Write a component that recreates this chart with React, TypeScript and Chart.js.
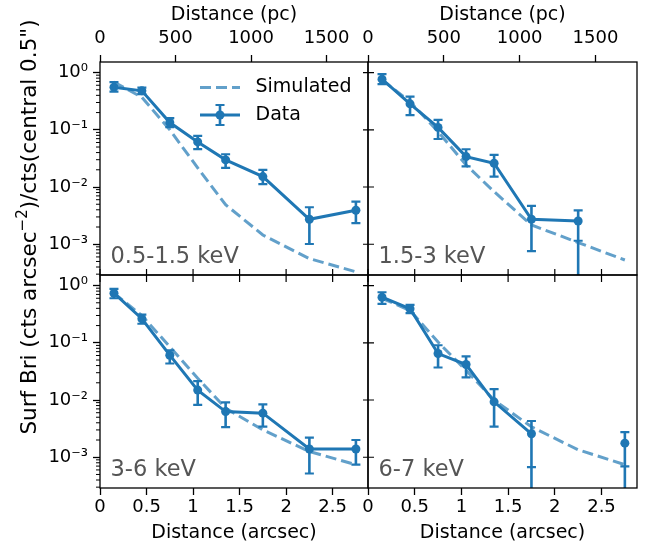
import React, { useEffect, useRef } from 'react';
import { Chart, registerables } from 'chart.js';
Chart.register(...registerables);

const FONT = 'DejaVu Sans';
Chart.defaults.font.family = FONT;

// ---------------- data ----------------
const xArcsec = [0.15, 0.45, 0.75, 1.05, 1.35, 1.75, 2.25, 2.75];
const xTicks = [0, 0.5, 1, 1.5, 2, 2.5];
const xTickLabels = ['0', '0.5', '1', '1.5', '2', '2.5'];
const pcTicks = [0, 500, 1000, 1500];
const pcTickLabels = ['0', '500', '1000', '1500'];
const yTicks = [1e-3, 1e-2, 1e-1, 1];
const yTickLabels = ['10⁻³', '10⁻²', '10⁻¹', '10⁰'];
const xMax = 2.88;
const pcPerArcsec = 616;
const yMin = 2.9e-4;
const yMax = 1.53;

const bandLabels = ['0.5-1.5 keV', '1.5-3 keV', '3-6 keV', '6-7 keV'];

// 0.5-1.5 keV
const softData = [0.556, 0.479, 0.134, 0.0614, 0.0298, 0.0152, 0.00273, 0.00393];
const softHi = [0.68, 0.547, 0.16, 0.078, 0.0374, 0.02, 0.00443, 0.00556];
const softLo = [0.466, 0.419, 0.111, 0.046, 0.0216, 0.0112, 0.00101, 0.00233];
const softClip = [false, false, false, false, false, false, false, false];
const softSim = [0.68, 0.37, 0.1, 0.0216, 0.0049, 0.00145, 5.6e-4, 3.3e-4];

// 1.5-3 keV
const medData = [0.767, 0.284, 0.11, 0.034, 0.026, 0.00273, 0.00255, null];
const medHi = [0.94, 0.38, 0.149, 0.0457, 0.0363, 0.00468, 0.0039, null];
const medLo = [0.627, 0.18, 0.069, 0.0229, 0.0152, 0.00076, 0.00115, null];
const medClip = [false, false, false, false, false, false, true, false];
const medSim = [0.745, 0.31, 0.093, 0.0243, 0.0083, 0.00217, 0.00107, 5.3e-4];

// 3-6 keV
const hardData = [0.735, 0.263, 0.0607, 0.0149, 0.00627, 0.0059, 0.00139, 0.00139];
const hardHi = [0.875, 0.31, 0.074, 0.0214, 0.0091, 0.0084, 0.0022, 0.002];
const hardLo = [0.6, 0.215, 0.0435, 0.0082, 0.00335, 0.00343, 5.2e-4, 7.4e-4];
const hardClip = [false, false, false, false, false, false, false, false];
const hardSim = [0.735, 0.3, 0.085, 0.024, 0.0072, 0.003, 0.00126, 7.4e-4];

// 6-7 keV
const feData = [0.626, 0.393, 0.0649, 0.0417, 0.0093, 0.00257, null, 0.00176];
const feHi = [0.765, 0.46, 0.0906, 0.058, 0.0155, 0.0043, null, 0.00274];
const feLo = [0.48, 0.33, 0.037, 0.0248, 0.00343, 6.7e-4, null, 6.9e-4];
const feClip = [false, false, false, false, false, true, false, true];
const feSim = [0.6, 0.367, 0.103, 0.033, 0.01, 0.0034, 0.00135, 7.4e-4];

// ---------------- styling / layout ----------------
const W = 649;
const H = 549;
const AX = 60;
const BLUE = '#1f77b4';
const SIMC = 'rgba(31,119,180,0.7)';

const panels = [
  { label: bandLabels[0], data: softData, hi: softHi, lo: softLo, clip: softClip, sim: softSim,
    rect: { L: 100, R: 368, T: 62, B: 275 }, top: true, bottom: false, left: true, legend: true, ylabel: false },
  { label: bandLabels[1], data: medData, hi: medHi, lo: medLo, clip: medClip, sim: medSim,
    rect: { L: 368, R: 637, T: 62, B: 275 }, top: true, bottom: false, left: false, legend: false, ylabel: false },
  { label: bandLabels[2], data: hardData, hi: hardHi, lo: hardLo, clip: hardClip, sim: hardSim,
    rect: { L: 100, R: 368, T: 275, B: 488 }, top: false, bottom: true, left: true, legend: false, ylabel: true },
  { label: bandLabels[3], data: feData, hi: feHi, lo: feLo, clip: feClip, sim: feSim,
    rect: { L: 368, R: 637, T: 275, B: 488 }, top: false, bottom: true, left: false, legend: false, ylabel: false },
];

const EB_W = 2.6;
const CAP_W = 2.2;
const CAP = 4.5;

const decorPlugin = {
  id: 'decor',
  afterDatasetsDraw(chart: any, _args: any, opts: any) {
    const p = opts.panel;
    if (!p) return;
    const ctx = chart.ctx;
    const ca = chart.chartArea;
    const xs = chart.scales.x;
    const ys = chart.scales.y;
    ctx.save();
    ctx.beginPath();
    ctx.rect(ca.left, ca.top, ca.right - ca.left, ca.bottom - ca.top);
    ctx.clip();
    ctx.strokeStyle = BLUE;
    for (let i = 0; i < xArcsec.length; i++) {
      if (p.data[i] == null) continue;
      const x = xs.getPixelForValue(xArcsec[i]);
      const yh = ys.getPixelForValue(p.hi[i]);
      const yl = ys.getPixelForValue(p.lo[i]);
      const yEnd = p.clip[i] ? ca.bottom + 2 : yl;
      ctx.lineWidth = EB_W;
      ctx.beginPath();
      ctx.moveTo(x, yh);
      ctx.lineTo(x, yEnd);
      ctx.stroke();
      ctx.lineWidth = CAP_W;
      ctx.beginPath();
      ctx.moveTo(x - CAP, yh);
      ctx.lineTo(x + CAP, yh);
      ctx.moveTo(x - CAP, yl);
      ctx.lineTo(x + CAP, yl);
      ctx.stroke();
    }
    ctx.restore();
  },
  afterDraw(chart: any, _args: any, opts: any) {
    const p = opts.panel;
    if (!p) return;
    const ctx = chart.ctx;
    const ca = chart.chartArea;
    const xs = chart.scales.x;
    const ys = chart.scales.y;
    ctx.save();
    // frame
    ctx.strokeStyle = '#000';
    ctx.lineWidth = 1.3;
    ctx.strokeRect(ca.left, ca.top, ca.right - ca.left, ca.bottom - ca.top);
    // minor y ticks for left panels
    ctx.lineWidth = 1;
    if (p.left) {
      ctx.beginPath();
      for (let d = -4; d <= 0; d++) {
        for (let k = 2; k <= 9; k++) {
          const v = k * Math.pow(10, d);
          if (v < yMin || v > yMax) continue;
          const y = ys.getPixelForValue(v);
          ctx.moveTo(ca.left - 4, y);
          ctx.lineTo(ca.left, y);
        }
      }
      ctx.stroke();
    } else {
      ctx.lineWidth = 1.2;
      ctx.beginPath();
      for (const v of yTicks) {
        const y = ys.getPixelForValue(v);
        ctx.moveTo(ca.left - 5, y);
        ctx.lineTo(ca.left + 6, y);
      }
      ctx.stroke();
    }
    if (!p.bottom) {
      ctx.lineWidth = 1.2;
      ctx.beginPath();
      for (const v of xTicks) {
        const x = xs.getPixelForValue(v);
        ctx.moveTo(x, ca.bottom - 6);
        ctx.lineTo(x, ca.bottom + 7);
      }
      ctx.stroke();
    }
    // panel label
    ctx.fillStyle = '#555555';
    ctx.font = `22.5px "${FONT}"`;
    ctx.textAlign = 'left';
    ctx.textBaseline = 'alphabetic';
    ctx.fillText(p.label, ca.left + 10.5, ca.bottom - 12);

    // legend
    if (p.legend) {
      const hx0 = ca.right - 168;
      const hx1 = ca.right - 128;
      const hxm = (hx0 + hx1) / 2;
      const y1 = ca.top + 25.5;
      const y2 = ca.top + 53;
      ctx.strokeStyle = SIMC;
      ctx.lineWidth = 3;
      ctx.setLineDash([11, 5]);
      ctx.beginPath();
      ctx.moveTo(hx0, y1);
      ctx.lineTo(hx1, y1);
      ctx.stroke();
      ctx.setLineDash([]);
      ctx.strokeStyle = BLUE;
      ctx.lineWidth = 3;
      ctx.beginPath();
      ctx.moveTo(hx0, y2);
      ctx.lineTo(hx1, y2);
      ctx.stroke();
      ctx.lineWidth = EB_W;
      ctx.beginPath();
      ctx.moveTo(hxm, y2 - 10);
      ctx.lineTo(hxm, y2 + 10);
      ctx.stroke();
      ctx.lineWidth = CAP_W;
      ctx.beginPath();
      ctx.moveTo(hxm - CAP, y2 - 10);
      ctx.lineTo(hxm + CAP, y2 - 10);
      ctx.moveTo(hxm - CAP, y2 + 10);
      ctx.lineTo(hxm + CAP, y2 + 10);
      ctx.stroke();
      ctx.fillStyle = BLUE;
      ctx.beginPath();
      ctx.arc(hxm, y2, 4.5, 0, Math.PI * 2);
      ctx.fill();
      ctx.fillStyle = '#000';
      ctx.font = `19px "${FONT}"`;
      ctx.textBaseline = 'middle';
      ctx.fillText('Simulated', ca.right - 112.5, y1);
      ctx.fillText('Data', ca.right - 112.5, y2);
    }

    // y label (figure-level)
    if (p.ylabel) {
      const main = `21.5px "${FONT}"`;
      const sup = `15px "${FONT}"`;
      const parts = [
        { t: 'Surf Bri (cts arcsec', f: main, dy: 0 },
        { t: '−2', f: sup, dy: -9 },
        { t: ')/cts(central 0.5")', f: main, dy: 0 },
      ];
      ctx.fillStyle = '#000';
      ctx.textBaseline = 'alphabetic';
      ctx.textAlign = 'left';
      let total = 0;
      for (const part of parts) {
        ctx.font = part.f;
        total += ctx.measureText(part.t).width;
      }
      ctx.translate(28, 227);
      ctx.rotate(-Math.PI / 2);
      let x = -total / 2;
      for (const part of parts) {
        ctx.font = part.f;
        ctx.fillText(part.t, x, 8 + part.dy);
        x += ctx.measureText(part.t).width;
      }
    }
    ctx.restore();
  },
};

function makeConfig(p: any) {
  const { L, R, T, B } = p.rect;
  const fixH = (s: any) => { s.height = AX; };
  const fixW = (s: any) => { s.width = AX; };
  const tickGrid = { drawOnChartArea: false, drawTicks: true, tickLength: 7, tickWidth: 1.3, tickColor: '#000' };
  const scales: any = {
    x: {
      type: 'linear', position: 'bottom', min: 0, max: xMax, display: p.bottom,
      afterBuildTicks: (s: any) => { s.ticks = xTicks.map((v) => ({ value: v })); },
      ticks: { callback: (_v: any, i: number) => xTickLabels[i], font: { size: 18 }, color: '#000', padding: 2, maxRotation: 0, autoSkip: false },
      grid: tickGrid,
      border: { display: false },
      title: { display: true, text: 'Distance (arcsec)', font: { size: 19 }, color: '#000', padding: { top: 0, bottom: 3.6 } },
    },
    y: {
      type: 'logarithmic', position: 'left', min: yMin, max: yMax, display: p.left,
      afterBuildTicks: (s: any) => { s.ticks = yTicks.map((v) => ({ value: v, major: true })); },
      ticks: { callback: (_v: any, i: number) => yTickLabels[i], font: { size: 18 }, color: '#000', padding: 5, autoSkip: false },
      grid: tickGrid,
      border: { display: false },
    },
  };
  if (p.bottom) scales.x.afterFit = fixH;
  if (p.left) scales.y.afterFit = fixW;
  if (p.top) {
    scales.x2 = {
      type: 'linear', position: 'top', min: 0, max: xMax * pcPerArcsec, display: true,
      afterBuildTicks: (s: any) => { s.ticks = pcTicks.map((v) => ({ value: v })); },
      afterFit: fixH,
      ticks: { callback: (_v: any, i: number) => pcTickLabels[i], font: { size: 18 }, color: '#000', padding: 6, maxRotation: 0, autoSkip: false },
      grid: tickGrid,
      border: { display: false },
      title: { display: true, text: 'Distance (pc)', font: { size: 19 }, color: '#000', padding: { top: 1.6, bottom: 0 } },
    };
  }
  return {
    type: 'line',
    data: {
      datasets: [
        {
          label: 'Data',
          data: xArcsec.map((x, i) => ({ x, y: p.data[i] })),
          xAxisID: 'x', yAxisID: 'y',
          borderColor: BLUE, backgroundColor: BLUE, borderWidth: 3,
          pointRadius: 4.5, pointBorderWidth: 0, pointBackgroundColor: BLUE,
          spanGaps: false, tension: 0,
        },
        {
          label: 'Simulated',
          data: xArcsec.map((x, i) => ({ x, y: p.sim[i] })),
          xAxisID: 'x', yAxisID: 'y',
          borderColor: SIMC, backgroundColor: SIMC, borderWidth: 3, borderDash: [11, 5],
          pointRadius: 0, tension: 0,
        },
      ],
    },
    options: {
      responsive: false,
      animation: false,
      events: [],
      layout: {
        padding: {
          left: p.left ? L - AX : L,
          right: W - R,
          top: p.top ? T - AX : T,
          bottom: p.bottom ? H - B - AX : H - B,
        },
      },
      plugins: {
        legend: { display: false },
        tooltip: { enabled: false },
        decor: { panel: p },
      },
      scales,
    },
    plugins: [decorPlugin],
  };
}

export default function App() {
  const refs = [useRef<HTMLCanvasElement>(null), useRef<HTMLCanvasElement>(null), useRef<HTMLCanvasElement>(null), useRef<HTMLCanvasElement>(null)];
  useEffect(() => {
    const charts = panels.map((p, i) => new Chart(refs[i].current as HTMLCanvasElement, makeConfig(p) as any));
    return () => charts.forEach((c) => c.destroy());
  }, []);
  return (
    <div style={{ position: 'fixed', left: 0, top: 0, width: W, height: H, background: '#fff' }}>
      {refs.map((r, i) => (
        <canvas key={i} ref={r} width={W} height={H} style={{ position: 'absolute', left: 0, top: 0 }} />
      ))}
    </div>
  );
}
